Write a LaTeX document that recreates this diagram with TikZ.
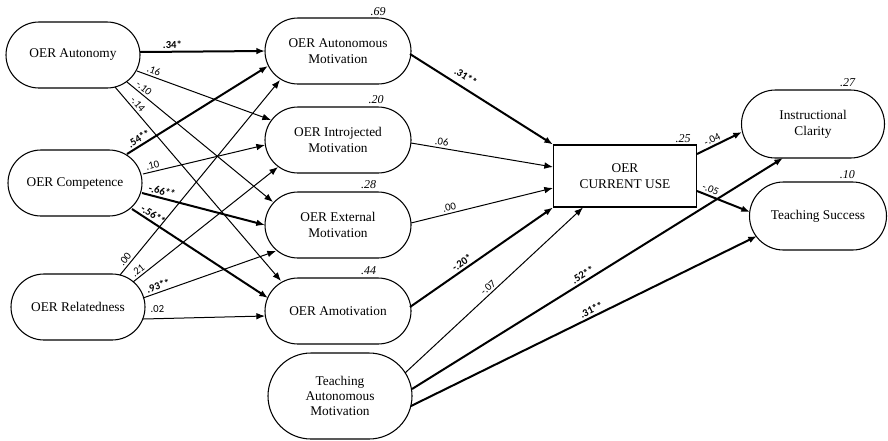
\documentclass[tikz,border=0pt]{standalone}
\usepackage{fontspec}
\setmainfont{Liberation Serif}
\newfontfamily\coeffont{Carlito}
\usetikzlibrary{arrows.meta,positioning,calc}
\tikzset{
  latent/.style={draw, rounded corners=24.75pt, line width=0.8pt,
    minimum width=100.5pt, minimum height=49.5pt, align=center,
    font=\fontsize{10}{12.5}\selectfont},
  mediator/.style={latent, minimum width=109.5pt},
  outcome/.style={latent, rounded corners=25.5pt, minimum width=107.25pt,
    minimum height=51pt, font=\fontsize{10}{12}\selectfont},
  teachbox/.style={latent, rounded corners=32.25pt, minimum width=108pt,
    minimum height=64.5pt, font=\fontsize{10}{11.5}\selectfont},
  observed/.style={draw, line width=0.8pt, minimum width=107.25pt,
    minimum height=46.5pt, align=center, font=\fontsize{10}{12.5}\selectfont},
  link/.style={-{Latex[length=6.5pt,width=5pt]}, line width=0.75pt},
  siglink/.style={link, line width=1.5pt},
  coef/.style={sloped, above, inner sep=1.5pt,
    font=\coeffont\fontsize{8}{9}\selectfont},
  sigcoef/.style={coef, font=\coeffont\bfseries\fontsize{8}{9}\selectfont},
  rsq/.style={inner sep=1pt, font=\itshape\fontsize{9}{10}\selectfont}
}
\begin{document}
\begin{tikzpicture}[x=0.75pt, y=-0.75pt]
  \useasboundingbox (0,0) rectangle (888,440);
  % predictors
  \node[latent] (aut) at (73,55) {OER Autonomy};
  \node[latent] (comp) at (75,183) {OER Competence};
  \node[latent] (rel) at (78,307) {OER Relatedness};
  % motivations
  \node[mediator] (am) at (338,51) {OER Autonomous\\Motivation};
  \node[mediator] (im) at (338,140) {OER Introjected\\Motivation};
  \node[mediator] (em) at (338,225) {OER External\\Motivation};
  \node[mediator] (amo) at (338,311) {OER Amotivation};
  \node[teachbox] (tam) at (340,396) {Teaching\\Autonomous\\Motivation};
  % use and outcomes
  \node[observed] (cu) at (625,176) {OER\\CURRENT USE};
  \node[outcome] (ic) at (813,124) {Instructional\\Clarity};
  \node[outcome, minimum width=102.75pt] (ts) at (818,216) {Teaching Success};
  % explained variance
  \node[rsq, above=0pt of am.north, xshift=30pt] (r2am) {.69};
  \node[rsq, above=1pt of im.north, xshift=28.5pt] (r2im) {.20};
  \node[rsq, above=1pt of em.north, xshift=23pt] (r2em) {.28};
  \node[rsq, above=1pt of amo.north, xshift=23pt] (r2amo) {.44};
  \node[rsq, above=0pt of cu.north, xshift=43.5pt] (r2cu) {.25};
  \node[rsq, above=1pt of ic.north, xshift=26pt] (r2ic) {.27};
  \node[rsq, above=1pt of ts.north, xshift=22pt] (r2ts) {.10};

  % autonomy
  \draw[siglink] ($(aut)+(67,-3)$) -- node[sigcoef, pos=.26] {.34*} ($(am)+(-73,0)$);
  \draw[link] ($(aut)+(64,16)$) -- node[coef, pos=.11] {.16} ($(im)+(-67,-20)$);
  \draw[link] ($(aut)+(54,27)$) -- node[coef, pos=.09] {-.10} ($(em)+(-65,-23)$);
  \draw[link] ($(aut)+(42,32)$) -- node[coef, pos=.11] {-.14} ($(amo)+(-57,-30)$);
  % competence
  \draw[siglink] ($(comp)+(52,-29)$) -- node[sigcoef, pos=.11] {.54**} ($(am)+(-70,15)$);
  \draw[link] ($(comp)+(68,-9)$) -- node[coef, pos=.09] {.10} ($(im)+(-73,5)$);
  \draw[siglink] ($(comp)+(67,10)$) -- node[sigcoef, pos=.15] {-.66**} ($(em)+(-73,0)$);
  \draw[siglink] ($(comp)+(57,26)$) -- node[sigcoef, pos=.13] {-.56**} ($(amo)+(-70,-13)$);
  % relatedness
  \draw[link] ($(rel)+(42,-32)$) -- node[coef, pos=.06] {.00} ($(am)+(-58,29)$);
  \draw[link] ($(rel)+(55,-25)$) -- node[coef, pos=.06] {.21} ($(im)+(-60,27)$);
  \draw[link] ($(rel)+(65,-9)$) -- node[sigcoef, pos=.13] {.93**} ($(em)+(-62,26)$);
  \draw[link] ($(rel)+(65,12)$) -- node[coef, pos=.12, above=3pt] {.02} ($(amo)+(-73,5)$);
  % to current use
  \draw[siglink] ($(am)+(72,3)$) -- node[sigcoef, pos=.35, above=3pt] {.31**} (cu.north west);
  \draw[link] ($(im)+(73,3)$) -- node[coef, pos=.21] {.06} ($(cu.west)+(0,-9)$);
  \draw[link] ($(em)+(73,-2)$) -- node[coef, pos=.28] {.00} ($(cu.west)+(0,12)$);
  \draw[siglink] ($(amo)+(72,-4)$) -- node[sigcoef, pos=.39] {-.20*} (cu.south west);
  \draw[link] ($(tam)+(65,-23)$) -- node[coef, pos=.49] {-.07} ($(cu.south west)+(30,0)$);
  % outcomes
  \draw[siglink] ($(tam)+(72,-7)$) -- node[sigcoef, pos=.47] {.52**} ($(ic)+(-30,34)$);
  \draw[siglink] ($(tam)+(71,10)$) -- node[sigcoef, pos=.53] {.31**} ($(ts)+(-61,20)$);
  \draw[siglink] ($(cu.east)+(0,-22)$) -- node[coef, pos=.4] {-.04} ($(ic)+(-71,8)$);
  \draw[siglink] ($(cu.east)+(0,15)$) -- node[coef, pos=.21] {-.05} ($(ts)+(-68,-4)$);
\end{tikzpicture}
\end{document}
